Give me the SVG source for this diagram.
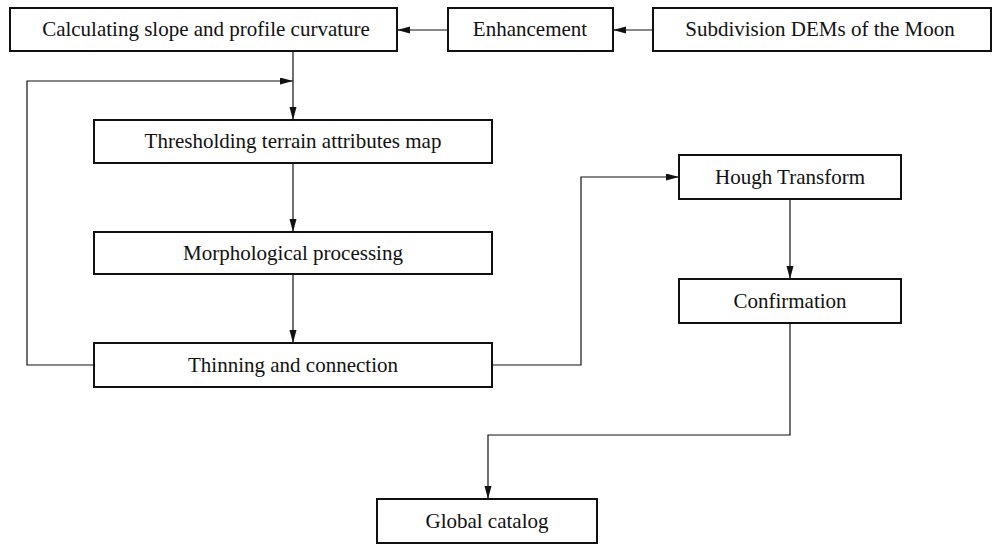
<svg xmlns="http://www.w3.org/2000/svg" width="993" height="545" viewBox="0 0 993 545">
<style>
.box{fill:#fff;stroke:#111;stroke-width:2}
.lbl{font-family:"Liberation Serif","Times New Roman",serif;font-size:21px;fill:#111;text-anchor:middle}
.con{fill:none;stroke:#111;stroke-width:1.2}
</style>
<defs>
<marker id="ah" markerUnits="userSpaceOnUse" markerWidth="14" markerHeight="8" refX="13" refY="3.5" orient="auto">
<path d="M0,0 L13,3.5 L0,7 z" fill="#111"/>
</marker>
</defs>
<rect width="993" height="545" fill="#fff"/>
<g id="connectors">
<path class="con" d="M653,30 H613" marker-end="url(#ah)"/>
<path class="con" d="M448,30 H397" marker-end="url(#ah)"/>
<path class="con" d="M293,51 V120" marker-end="url(#ah)"/>
<path class="con" d="M94,365 H27 V81 H293" marker-end="url(#ah)"/>
<path class="con" d="M293,163 V232" marker-end="url(#ah)"/>
<path class="con" d="M293,274 V343" marker-end="url(#ah)"/>
<path class="con" d="M492,365 H581 V177 H679" marker-end="url(#ah)"/>
<path class="con" d="M790,199 V279" marker-end="url(#ah)"/>
<path class="con" d="M790,323 V435 H488 V499" marker-end="url(#ah)"/>
</g>
<g id="n-calc"><rect class="box" x="10" y="8" width="387" height="43"/><text class="lbl" x="206" y="36">Calculating slope and profile curvature</text></g>
<g id="n-enh"><rect class="box" x="448" y="8" width="165" height="43"/><text class="lbl" x="530" y="36">Enhancement</text></g>
<g id="n-sub"><rect class="box" x="653" y="8" width="338" height="43"/><text class="lbl" x="820" y="36">Subdivision DEMs of the Moon</text></g>
<g id="n-thr"><rect class="box" x="94" y="120" width="398" height="43"/><text class="lbl" x="293" y="148">Thresholding terrain attributes map</text></g>
<g id="n-mor"><rect class="box" x="94" y="232" width="398" height="42"/><text class="lbl" x="293" y="260">Morphological processing</text></g>
<g id="n-thin"><rect class="box" x="94" y="343" width="398" height="44"/><text class="lbl" x="293" y="372">Thinning and connection</text></g>
<g id="n-hough"><rect class="box" x="679" y="155" width="222" height="44"/><text class="lbl" x="790" y="184">Hough Transform</text></g>
<g id="n-conf"><rect class="box" x="679" y="279" width="222" height="44"/><text class="lbl" x="790" y="308">Confirmation</text></g>
<g id="n-glob"><rect class="box" x="377" y="499" width="220" height="44"/><text class="lbl" x="487" y="528">Global catalog</text></g>
</svg>
